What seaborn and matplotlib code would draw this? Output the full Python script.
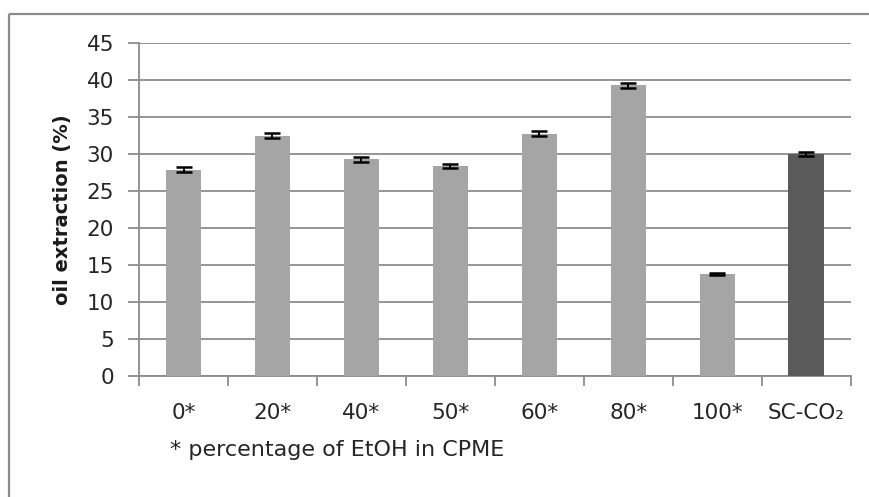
import matplotlib
matplotlib.use("Agg")
import matplotlib.pyplot as plt
from matplotlib.lines import Line2D
from matplotlib.ticker import FixedLocator
import seaborn as sns
import pandas as pd

# Oil extraction yield per solvent system
categories = ["0*", "20*", "40*", "50*", "60*", "80*", "100*", "SC-CO\u2082"]
extraction = [27.9, 32.5, 29.3, 28.4, 32.8, 39.3, 13.8, 30.0]
errors = [0.35, 0.35, 0.3, 0.3, 0.35, 0.35, 0.15, 0.3]
bar_colors = ["#a5a5a5"] * 7 + ["#5a5a5a"]
y_ticks = list(range(0, 50, 5))

sns.set_theme(style="white")
plt.rcParams["font.family"] = ["DejaVu Sans"]

df = pd.DataFrame({"category": categories, "extraction": extraction})

fig = plt.figure(figsize=(8.69, 4.97), dpi=100)
ax = fig.add_axes([0.160, 0.243, 0.819, 0.670])

sns.barplot(data=df, x="category", y="extraction", hue="category",
            palette=bar_colors, width=0.4, legend=False, ax=ax,
            edgecolor="none", zorder=3)
ax.errorbar(range(len(categories)), extraction, yerr=errors, fmt="none",
            ecolor="black", elinewidth=1.4, capsize=5.5, capthick=1.8, zorder=4)

ax.set_ylim(0, 45)
ax.set_xlim(-0.5, len(categories) - 0.5)
ax.set_yticks(y_ticks)
ax.yaxis.grid(True, color="#8c8c8c", linewidth=1.3, zorder=0)
ax.set_axisbelow(True)

for side in ("top", "right"):
    ax.spines[side].set_visible(False)
for side in ("left", "bottom"):
    ax.spines[side].set_color("#8c8c8c")
    ax.spines[side].set_linewidth(1.3)

# Category labels centred under bars, tick marks on category boundaries
ax.tick_params(axis="x", which="major", length=0, pad=19, labelsize=15.5,
               labelcolor="#262626")
ax.xaxis.set_minor_locator(FixedLocator([i - 0.5 for i in range(len(categories) + 1)]))
ax.tick_params(axis="x", which="minor", bottom=True, length=7, width=1.3,
               color="#8c8c8c", direction="out")
ax.tick_params(axis="y", left=True, length=8, width=1.3, color="#8c8c8c",
               labelsize=15.5, labelcolor="#262626", pad=10)

ax.set_xlabel("")
ax.set_ylabel("oil extraction (%)", fontsize=14, fontweight="bold",
              color="#1a1a1a", va="center")
ax.yaxis.set_label_coords(-0.107, 0.5)

fig.text(170 / 869, 1 - 450 / 497, "* percentage of EtOH in CPME",
         fontsize=16, color="#262626", va="center", ha="left")

# Chart frame: left and top edges, running off the canvas
frame_x = 9 / 869
frame_y = 1 - 14 / 497
for xs, ys in (([frame_x, frame_x], [-0.05, frame_y]), ([frame_x, 1.05], [frame_y, frame_y])):
    fig.lines.append(Line2D(xs, ys, transform=fig.transFigure,
                            color="#8c8c8c", linewidth=1.6,
                            solid_capstyle="butt"))

fig.savefig("out.png", dpi=100, facecolor="white")
